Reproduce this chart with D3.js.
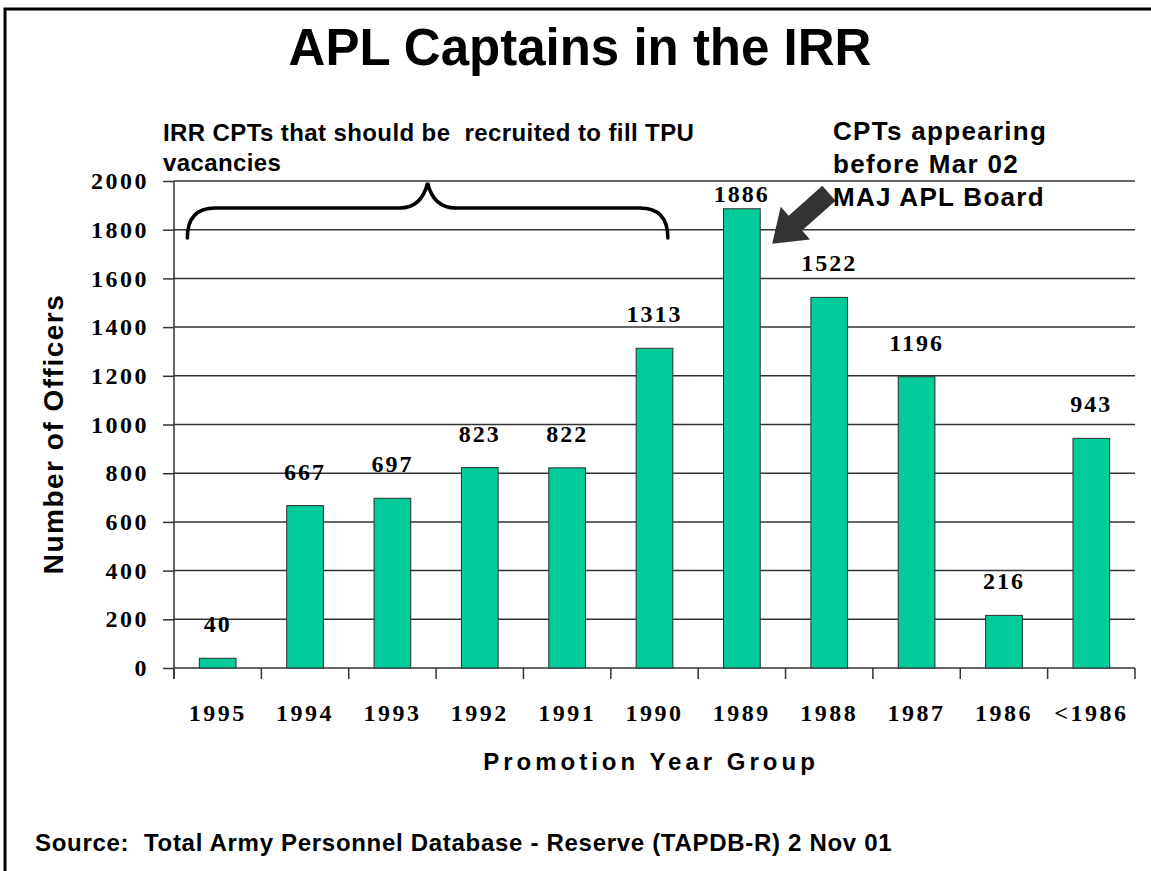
<!DOCTYPE html>
<html>
<head>
<meta charset="utf-8">
<script src="https://cdn.jsdelivr.net/npm/d3@7/dist/d3.min.js"></script>
<style>
  body { margin: 0; background: #fff; }
  svg { display: block; }
</style>
</head>
<body>
<div id="chart"></div>
<script>
// Data
const yearGroups = ['1995', '1994', '1993', '1992', '1991', '1990', '1989', '1988', '1987', '1986', '<1986'];
const officerCounts = [40, 667, 697, 823, 822, 1313, 1886, 1522, 1196, 216, 943];
const yTicks = [0, 200, 400, 600, 800, 1000, 1200, 1400, 1600, 1800, 2000];
const bracedGroups = ['1995', '1990'];
const boardGroup = '1989';
const noteLeft = ['IRR CPTs that should be  recruited to fill TPU', 'vacancies'];
const noteRight = ['CPTs appearing', 'before Mar 02', 'MAJ APL Board'];

const width = 1151;
const height = 871;
const margin = { top: 181, right: 15, bottom: 203, left: 174 };

const sans = '"Liberation Sans", Arial, sans-serif';
const serif = '"Liberation Serif", "Times New Roman", serif';
const gridColor = '#333';

const svg = d3.select('#chart')
  .append('svg')
  .attr('width', width)
  .attr('height', height);

// slide frame (only left and top edges are visible)
svg.append('path')
  .attr('d', 'M5,' + height + 'V9H' + width)
  .attr('fill', 'none')
  .attr('stroke', '#000')
  .attr('stroke-width', 3);

const x = d3.scaleBand()
  .domain(yearGroups)
  .range([margin.left, width - margin.right - 1])
  .paddingInner(0.58)
  .paddingOuter(0.29);

const y = d3.scaleLinear()
  .domain([0, 2000])
  .range([height - margin.bottom, margin.top]);

// Title
svg.append('text')
  .attr('x', 580)
  .attr('y', 65)
  .attr('text-anchor', 'middle')
  .style('font-family', sans)
  .style('font-weight', 'bold')
  .style('font-size', '51px')
  .text('APL Captains in the IRR');

// Gridlines + y axis
const yAxis = d3.axisLeft(y)
  .tickValues(yTicks)
  .tickFormat(d3.format('d'))
  .tickSize(11)
  .tickPadding(14);

const yG = svg.append('g')
  .attr('transform', `translate(${margin.left},0)`)
  .call(yAxis);
yG.select('.domain').remove();
yG.selectAll('.tick line').attr('stroke', gridColor).attr('stroke-width', 1.5);
yG.selectAll('.tick text')
  .style('font-family', serif)
  .style('font-weight', 'bold')
  .style('font-size', '24px')
  .style('letter-spacing', '2.5px')
  .attr('fill', '#000');

svg.append('g')
  .selectAll('line')
  .data(yTicks)
  .join('line')
  .attr('x1', margin.left)
  .attr('x2', width - margin.right - 1)
  .attr('y1', d => y(d))
  .attr('y2', d => y(d))
  .attr('stroke', gridColor)
  .attr('stroke-width', 1.5);

svg.append('line')
  .attr('x1', margin.left).attr('x2', margin.left)
  .attr('y1', y(2000)).attr('y2', y(0) + 11)
  .attr('stroke', gridColor)
  .attr('stroke-width', 1.5);

// x axis ticks between the groups
const boundaries = yearGroups.map(d => x(d) - x.step() * x.paddingOuter());
boundaries.push(x.range()[1]);
svg.append('g')
  .selectAll('line')
  .data(boundaries)
  .join('line')
  .attr('x1', d => d).attr('x2', d => d)
  .attr('y1', y(0)).attr('y2', y(0) + 11)
  .attr('stroke', gridColor)
  .attr('stroke-width', 1.5);

svg.append('g')
  .selectAll('text')
  .data(yearGroups)
  .join('text')
  .attr('x', d => x(d) + x.bandwidth() / 2)
  .attr('y', y(0) + 53)
  .attr('text-anchor', 'middle')
  .style('font-family', serif)
  .style('font-weight', 'bold')
  .style('font-size', '24px')
  .style('letter-spacing', '2.5px')
  .text(d => d);

// Bars
svg.append('g')
  .selectAll('rect')
  .data(yearGroups)
  .join('rect')
  .attr('x', d => x(d))
  .attr('y', (d, i) => y(officerCounts[i]))
  .attr('width', x.bandwidth())
  .attr('height', (d, i) => y(0) - y(officerCounts[i]))
  .attr('fill', '#00CC99')
  .attr('stroke', '#2e2e2e')
  .attr('stroke-width', 1);

// Value labels, kept below the top gridline
svg.append('g')
  .selectAll('text')
  .data(yearGroups)
  .join('text')
  .attr('x', d => x(d) + x.bandwidth() / 2)
  .attr('y', (d, i) => Math.max(y(officerCounts[i]) - 26, y(2000) + 21))
  .attr('text-anchor', 'middle')
  .style('font-family', serif)
  .style('font-weight', 'bold')
  .style('font-size', '24px')
  .style('letter-spacing', '2px')
  .text((d, i) => officerCounts[i]);

// Axis titles
svg.append('text')
  .attr('transform', 'translate(63,434) rotate(-90)')
  .attr('text-anchor', 'middle')
  .style('font-family', sans)
  .style('font-weight', 'bold')
  .style('font-size', '28px')
  .style('letter-spacing', '1.5px')
  .text('Number of Officers');

svg.append('text')
  .attr('x', 651)
  .attr('y', 770)
  .attr('text-anchor', 'middle')
  .style('font-family', sans)
  .style('font-weight', 'bold')
  .style('font-size', '24px')
  .style('letter-spacing', '4px')
  .text('Promotion Year Group');

svg.append('text')
  .attr('x', 35)
  .attr('y', 851)
  .style('font-family', sans)
  .style('font-weight', 'bold')
  .style('font-size', '24px')
  .style('letter-spacing', '0.7px')
  .style('white-space', 'pre')
  .text('Source:  Total Army Personnel Database - Reserve (TAPDB-R) 2 Nov 01');

// Note over the brace
svg.append('g')
  .selectAll('text')
  .data(noteLeft)
  .join('text')
  .attr('x', 163)
  .attr('y', (d, i) => 141 + i * 30)
  .style('font-family', sans)
  .style('font-weight', 'bold')
  .style('font-size', '24px')
  .style('letter-spacing', '0.4px')
  .style('white-space', 'pre')
  .text(d => d);

// Curly brace across the 1995-1990 groups
const bL = x(bracedGroups[0]) - 12;
const bR = x(bracedGroups[1]) + x.bandwidth() - 5;
const bM = (bL + bR) / 2;
const yTip = y(2000) + 2;
const yFlat = y(2000) + 27;
const yEnd = y(2000) + 57;
svg.append('path')
  .attr('d', `M${bL},${yEnd}Q${bL},${yFlat} ${bL + 28},${yFlat}` +
    `L${bM - 28},${yFlat}Q${bM - 6},${yFlat} ${bM},${yTip}` +
    `Q${bM + 6},${yFlat} ${bM + 28},${yFlat}` +
    `L${bR - 28},${yFlat}Q${bR},${yFlat} ${bR},${yEnd}`)
  .attr('fill', 'none')
  .attr('stroke', '#000')
  .attr('stroke-width', 3.5)
  .attr('stroke-linecap', 'round');

// Note + arrow for the board year group
svg.append('g')
  .selectAll('text')
  .data(noteRight)
  .join('text')
  .attr('x', 833)
  .attr('y', (d, i) => 140 + i * 33)
  .style('font-family', sans)
  .style('font-weight', 'bold')
  .style('font-size', '26px')
  .style('letter-spacing', '1.3px')
  .text(d => d);

const bIdx = yearGroups.indexOf(boardGroup);
const tipX = x(boardGroup) + x.bandwidth() + 12;
const tipY = y(officerCounts[bIdx]) + 35;
const ang = Math.atan2(-49, 55);
const len = 76, shaft = 10, head = 22, headLen = 31;
const local = [[0, 0], [headLen, -head], [headLen, -shaft], [len, -shaft],
  [len, shaft], [headLen, shaft], [headLen, head]];
const pts = local.map(([u, v]) => [
  tipX + u * Math.cos(ang) - v * Math.sin(ang),
  tipY + u * Math.sin(ang) + v * Math.cos(ang)
]);
svg.append('polygon')
  .attr('points', pts.map(p => p.join(',')).join(' '))
  .attr('fill', '#333');
</script>
</body>
</html>
